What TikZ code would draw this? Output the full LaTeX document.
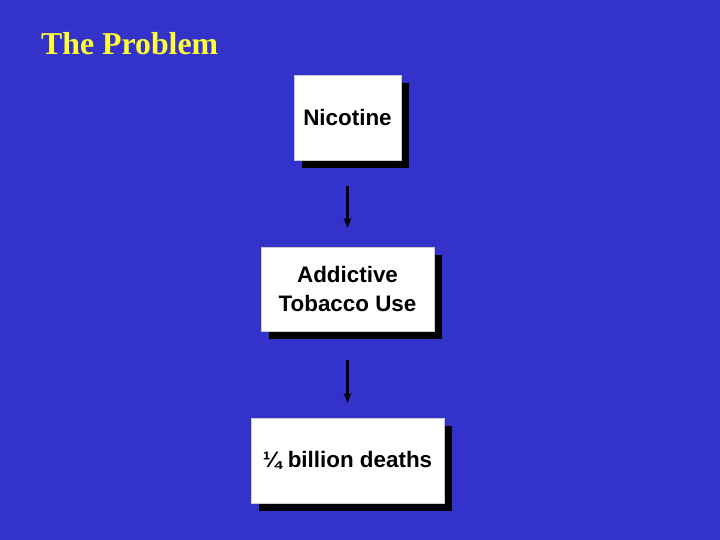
\documentclass[tikz,border=0pt]{standalone}
\usepackage{fontspec}
\setmainfont{Liberation Serif}
\newfontfamily\arialfont{Liberation Sans}
\usetikzlibrary{shadows,arrows.meta}
\definecolor{slidebg}{RGB}{51,51,204}
\definecolor{titleyellow}{RGB}{255,255,51}
\tikzset{
  box/.style={draw=gray!40, line width=0.4pt, fill=white, inner sep=0pt, align=center,
    font=\arialfont\bfseries\fontsize{22.4}{29}\selectfont,
    drop shadow={shadow xshift=8pt, shadow yshift=-8pt, fill=black, opacity=1}},
  flow/.style={draw=black, line width=2.2pt, -{Stealth[length=10pt,width=8pt]}}
}
\begin{document}
\begin{tikzpicture}[x=1pt,y=-1pt]
\fill[slidebg] (0,0) rectangle (720,540);
\useasboundingbox (0,0) rectangle (720,540);
\node[anchor=base west, text=titleyellow, font=\bfseries\fontsize{31.8}{36}\selectfont, inner sep=0pt] (title) at (41,55) {The Problem};
\node[box, minimum width=107pt, minimum height=85pt] (n1) at (347.5,117.5) {Nicotine};
\node[box, minimum width=173pt, minimum height=84pt] (n2) at (347.5,289) {Addictive\\Tobacco Use};
\node[box, minimum width=193pt, minimum height=85pt] (n3) at (347.5,460.5) {¼ billion deaths};
\draw[flow, shorten <=26pt, shorten >=19pt] (n1.south) -- (n2.north);
\draw[flow, shorten <=29pt, shorten >=15pt] (n2.south) -- (n3.north);
\end{tikzpicture}
\end{document}
